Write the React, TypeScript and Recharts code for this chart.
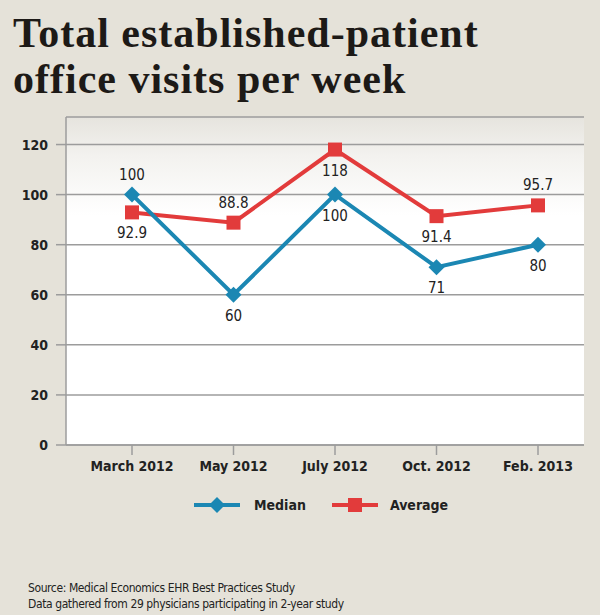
import React from "react";
import { LineChart, Line, XAxis, YAxis, CartesianGrid } from "recharts";

const categories = ["March 2012", "May 2012", "July 2012", "Oct. 2012", "Feb. 2013"];
const medianValues = [100, 60, 100, 71, 80];
const averageValues = [92.9, 88.8, 118, 91.4, 95.7];
// label placement per point: above or below the marker
const medianLabelPos = ["top", "bottom", "bottom", "bottom", "bottom"];
const averageLabelPos = ["bottom", "top", "bottom", "bottom", "top"];
const yTicks = [0, 20, 40, 60, 80, 100, 120];

const BLUE = "#1b87b3";
const RED = "#e23b3b";
const BG = "#e5e2d9";
const NARROW = "'Liberation Sans Narrow', 'DejaVu Sans Condensed', 'Roboto Condensed', sans-serif";
const SERIF = "'Liberation Serif', 'DejaVu Serif', serif";

const data = categories.map((c, i) => ({
  name: c,
  median: medianValues[i],
  average: averageValues[i],
}));

function makeLabel(pos: string[]) {
  return (props: any) => {
    const { x, y, value, index } = props;
    const below = pos[index] === "bottom";
    return (
      <text
        x={x}
        y={below ? y + 26 : y - 15}
        textAnchor="middle"
        fontFamily={NARROW}
        fontSize={15}
        fill="#222"
      >
        {value}
      </text>
    );
  };
}

const Diamond = (props: any) => {
  const { cx, cy } = props;
  const r = 8;
  return (
    <polygon
      points={`${cx},${cy - r} ${cx + r},${cy} ${cx},${cy + r} ${cx - r},${cy}`}
      fill={BLUE}
    />
  );
};

const Square = (props: any) => {
  const { cx, cy } = props;
  const s = 7;
  return <rect x={cx - s} y={cy - s} width={s * 2} height={s * 2} fill={RED} />;
};

const titleStyle: React.CSSProperties = {
  position: "absolute",
  left: 13,
  fontFamily: SERIF,
  fontWeight: 700,
  fontSize: 42,
  lineHeight: "42px",
  color: "#1d1a17",
  letterSpacing: 1,
  whiteSpace: "nowrap",
};

export default function App() {
  return (
    <div
      style={{
        position: "absolute",
        left: 0,
        top: 0,
        width: 600,
        height: 615,
        background: BG,
        overflow: "hidden",
      }}
    >
      <div style={{ ...titleStyle, top: 12 }}>Total established-patient</div>
      <div style={{ ...titleStyle, top: 58 }}>office visits per week</div>

      <div style={{ position: "absolute", left: 0, top: 0 }}>
        <LineChart
          width={600}
          height={500}
          data={data}
          margin={{ top: 117, right: 16, bottom: 15, left: 0 }}
        >
          <defs>
            <linearGradient id="plotBg" x1="0" y1="0" x2="0" y2="1">
              <stop offset="0%" stopColor="#e6e4de" />
              <stop offset="12%" stopColor="#f3f2ef" />
              <stop offset="30%" stopColor="#ffffff" />
              <stop offset="100%" stopColor="#ffffff" />
            </linearGradient>
          </defs>
          <CartesianGrid
            vertical={false}
            stroke="#9c9c9c"
            strokeWidth={1.5}
            fill="url(#plotBg)"
            fillOpacity={1}
          />
          <XAxis
            dataKey="name"
            padding={{ left: 66, right: 46 }}
            axisLine={{ stroke: "#9c9c9c", strokeWidth: 1.5 }}
            tickLine={{ stroke: "#9c9c9c", strokeWidth: 1.5 }}
            tickSize={10}
            tickMargin={6}
            height={40}
            tick={{ fontFamily: NARROW, fontWeight: 700, fontSize: 14, fill: "#222" }}
            interval={0}
          />
          <YAxis
            domain={[0, 131]}
            ticks={yTicks}
            width={66}
            axisLine={{ stroke: "#9c9c9c", strokeWidth: 1.5 }}
            tickLine={{ stroke: "#9c9c9c", strokeWidth: 1.5 }}
            tickSize={10}
            tickMargin={8}
            tick={{ fontFamily: NARROW, fontWeight: 700, fontSize: 14, fill: "#222" }}
          />
          <Line
            dataKey="average"
            stroke={RED}
            strokeWidth={4}
            dot={<Square />}
            activeDot={false}
            isAnimationActive={false}
            label={makeLabel(averageLabelPos)}
          />
          <Line
            dataKey="median"
            stroke={BLUE}
            strokeWidth={4}
            dot={<Diamond />}
            activeDot={false}
            isAnimationActive={false}
            label={makeLabel(medianLabelPos)}
          />
        </LineChart>
      </div>

      <div
        style={{
          position: "absolute",
          left: 194,
          top: 497,
          display: "flex",
          alignItems: "center",
          fontFamily: NARROW,
          fontWeight: 700,
          fontSize: 14,
          color: "#222",
        }}
      >
        <svg width={46} height={16} style={{ marginRight: 14 }}>
          <line x1={0} y1={8} x2={46} y2={8} stroke={BLUE} strokeWidth={4} />
          <polygon points="23,0 31,8 23,16 15,8" fill={BLUE} />
        </svg>
        <span style={{ marginRight: 26 }}>Median</span>
        <svg width={46} height={16} style={{ marginRight: 12 }}>
          <line x1={0} y1={8} x2={46} y2={8} stroke={RED} strokeWidth={4} />
          <rect x={16} y={1} width={14} height={14} fill={RED} />
        </svg>
        <span>Average</span>
      </div>

      <div
        style={{
          position: "absolute",
          left: 28,
          top: 580,
          fontFamily: NARROW,
          fontSize: 12,
          lineHeight: "16px",
          letterSpacing: -0.4,
          color: "#222",
        }}
      >
        Source: Medical Economics EHR Best Practices Study
        <br />
        Data gathered from 29 physicians participating in 2-year study
      </div>
    </div>
  );
}
